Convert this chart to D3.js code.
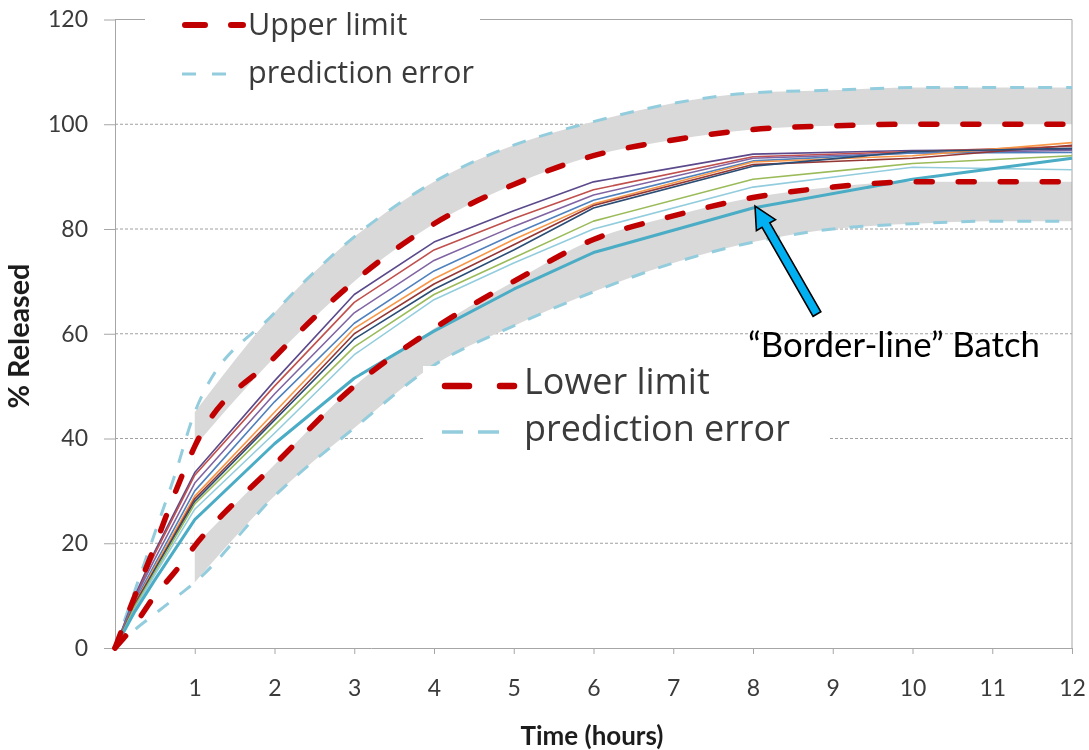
<!DOCTYPE html>
<html>
<head>
<meta charset="utf-8">
<script src="https://cdn.jsdelivr.net/npm/d3@7"></script>
<style>
  html, body { margin: 0; padding: 0; background: #fff; }
  svg { display: block; }
</style>
</head>
<body>
<svg id="chart" width="1089" height="750"></svg>
<script>
// Dissolution profile: % released vs time, with limits and prediction error bands
const limitHours = [0, 0.25, 0.5, 0.75, 1, 2, 3, 4, 5, 6, 7, 8, 9, 10, 11, 12];
const upperLimit = [0, 10, 19.5, 29.5, 38.5, 55.5, 70, 81, 88.5, 94, 97, 99, 99.7, 100, 100, 100];
const lowerLimit = [0, 4.5, 10, 14.5, 19.5, 35, 50, 61, 70, 78, 82.5, 86, 88, 89, 89, 89];
const upperError = [0, 11, 22, 33, 45, 64, 78.5, 89, 96, 100.5, 104, 106, 106.5, 107, 107, 107];
const lowerError = [0, 3.5, 6.5, 9.5, 12.5, 29, 42, 54, 61.5, 68, 73.5, 77.5, 80, 81, 81.5, 81.5];

const batchHours = [0, 0.25, 0.5, 1, 2, 3, 4, 5, 6, 8, 10, 12];
const batchPurple = [0, 10, 18.5, 33.5, 51, 67.5, 77.5, 83.5, 89, 94.3, 95, 95.2];
const batchRed = [0, 9.5, 18, 33, 50, 66, 76, 82, 87.5, 93.8, 94.8, 95.8];
const batchViolet = [0, 9.5, 17, 31.5, 48.5, 64, 74, 80.5, 86.5, 93.5, 94.5, 95];
const batchBlue = [0, 9, 16, 30, 47, 62, 72, 79, 85.5, 93, 94.5, 94.6];
const batchOrange = [0, 8.5, 15.5, 29, 45, 61, 70.5, 78, 84.8, 92.8, 94, 96.5];
const batchDarkRed = [0, 8.5, 15, 28.5, 44, 60, 69.5, 77, 84.5, 92.3, 93.5, 96];
const batchDarkBlue = [0, 8, 15, 28, 43.5, 59, 68.5, 76, 84, 92, 94.8, 95.4];
const batchGreen = [0, 8, 14.5, 27.5, 42.5, 57.5, 67.5, 74.5, 81.5, 89.5, 92.5, 94];
const batchLightBlue = [0, 7.5, 14, 26.5, 41, 56, 66.5, 73.5, 80, 88, 91.8, 91.3];
const batchBorderline = [0, 7, 13, 24.5, 39, 51.5, 60.5, 68.5, 75.5, 84, 89.5, 93.5];

const batchSeries = [batchPurple, batchRed, batchViolet, batchBlue, batchOrange,
                     batchDarkRed, batchDarkBlue, batchGreen, batchLightBlue, batchBorderline];
const batchColors = ["#5b4a8b", "#c0504d", "#8064a2", "#4f81bd", "#f79646",
                     "#953735", "#2c4d75", "#9bbb59", "#93cddd", "#4bacc6"];

const xTicks = [1, 2, 3, 4, 5, 6, 7, 8, 9, 10, 11, 12];
const yTicks = [0, 20, 40, 60, 80, 100, 120];
const gridValues = [20, 40, 60, 80, 100];

const legendTopLabels = ["Upper limit", "prediction error"];
const legendMidLabels = ["Lower limit", "prediction error"];
const annotationLabel = "\u201CBorder-line\u201D Batch";
const highlightHour = 8;

const RED = "#c00000";
const CYAN = "#93cddd";
const FONT = "Lato, 'Open Sans', sans-serif";
const LEGEND_FONT = "'Open Sans', Lato, sans-serif";

const svg = d3.select("#chart");
const plot = { left: 115, right: 1072, top: 19.5, bottom: 648 };

const x = d3.scaleLinear().domain([0, 12]).range([plot.left, plot.right]);
const y = d3.scaleLinear().domain([0, 120]).range([plot.bottom, plot.top]);

// slight softening of the chart body
const defs = svg.append("defs");
defs.append("filter").attr("id", "soft")
  .attr("x", "-5%").attr("y", "-5%").attr("width", "110%").attr("height", "110%")
  .append("feGaussianBlur").attr("stdDeviation", 0.55);

const chart = svg.append("g").attr("filter", "url(#soft)");

// scale text so it spans a given width
function fitWidth(sel, target) {
  const w = sel.node().getComputedTextLength();
  const fs = parseFloat(sel.attr("font-size"));
  const size = fs * target / w;
  sel.attr("font-size", size);
  return size;
}

// dotted horizontal gridlines
chart.append("g").selectAll("line").data(gridValues).join("line")
  .attr("x1", plot.left).attr("x2", plot.right)
  .attr("y1", d => y(d)).attr("y2", d => y(d))
  .attr("stroke", "#a0a0a0").attr("stroke-width", 1)
  .attr("stroke-dasharray", "3,2");

// band rows (from 1 h onward)
const bandRows = limitHours.map((t, i) => ({
  t, ul: upperLimit[i], ll: lowerLimit[i], ue: upperError[i], le: lowerError[i]
})).filter(d => d.t >= 1);

chart.append("path").datum(bandRows)
  .attr("fill", "#d9d9d9")
  .attr("d", d3.area().curve(d3.curveMonotoneX)
    .x(d => x(d.t)).y0(d => y(d.le)).y1(d => y(d.ue)));

chart.append("path").datum(bandRows)
  .attr("fill", "#ffffff")
  .attr("d", d3.area().curve(d3.curveMonotoneX)
    .x(d => x(d.t)).y0(d => y(d.ll)).y1(d => y(d.ul)));

// axes
const axisColor = "#a6a6a6";
const xAxis = d3.axisBottom(x).tickValues(xTicks).tickSize(6).tickSizeOuter(0)
  .tickPadding(26).tickFormat(d3.format("d"));
const yAxis = d3.axisLeft(y).tickValues(yTicks).tickSize(11).tickSizeOuter(0)
  .tickPadding(16).tickFormat(d3.format("d"));

const gx = chart.append("g").attr("transform", `translate(0,${plot.bottom})`).call(xAxis);
const gy = chart.append("g").attr("transform", `translate(${plot.left},0)`).call(yAxis);
[gx, gy].forEach(g => {
  g.selectAll("path, line").attr("stroke", axisColor);
  g.selectAll("text").attr("fill", "#3a3a3a").attr("font-family", FONT).attr("font-size", 23);
});

// top and right frame
chart.append("line").attr("x1", plot.left).attr("x2", plot.right)
  .attr("y1", plot.top).attr("y2", plot.top).attr("stroke", axisColor);
chart.append("line").attr("x1", plot.right).attr("x2", plot.right)
  .attr("y1", plot.top).attr("y2", plot.bottom).attr("stroke", axisColor);

// prediction error lines
const limitLine = vals => d3.line().curve(d3.curveMonotoneX)
  .x((d, i) => x(limitHours[i])).y(d => y(d))(vals);

[upperError, lowerError].forEach(vals => {
  chart.append("path").attr("d", limitLine(vals))
    .attr("fill", "none").attr("stroke", CYAN).attr("stroke-width", 3)
    .attr("stroke-dasharray", "14,14");
});

// batch profiles
const batchLine = d3.line().x((d, i) => x(batchHours[i])).y(d => y(d));
batchSeries.forEach((vals, k) => {
  const last = k === batchSeries.length - 1;
  chart.append("path").attr("d", batchLine(vals))
    .attr("fill", "none").attr("stroke", batchColors[k])
    .attr("stroke-width", last ? 3 : 1.6)
    .attr("stroke-linejoin", "round");
});

// upper/lower limits
[upperLimit, lowerLimit].forEach(vals => {
  chart.append("path").attr("d", limitLine(vals))
    .attr("fill", "none").attr("stroke", RED).attr("stroke-width", 5.5)
    .attr("stroke-linecap", "round").attr("stroke-dasharray", "16,26");
});

// axis titles
chart.append("text").attr("x", 592).attr("y", 745)
  .attr("text-anchor", "middle").attr("font-family", FONT).attr("font-weight", "bold")
  .attr("font-size", 20).attr("fill", "#1e1e1e").text("Time (hours)")
  .call(s => fitWidth(s, 143));

chart.append("text").attr("transform", "translate(29,336) rotate(-90)")
  .attr("text-anchor", "middle").attr("font-family", FONT).attr("font-weight", "bold")
  .attr("font-size", 19).attr("fill", "#1e1e1e").text("% Released")
  .call(s => fitWidth(s, 145));

// legend blocks
function legend(box, rows) {
  const g = chart.append("g");
  g.append("rect").attr("x", box.x).attr("y", box.y).attr("width", box.w).attr("height", box.h)
    .attr("fill", "#ffffff");
  rows.forEach(r => {
    g.append("line").attr("x1", r.x1).attr("x2", r.x2).attr("y1", r.ly).attr("y2", r.ly)
      .attr("stroke", r.color).attr("stroke-width", r.width)
      .attr("stroke-linecap", r.cap).attr("stroke-dasharray", r.dash);
  });
  const texts = rows.map(r => g.append("text").attr("x", box.tx).attr("y", r.ty)
    .attr("font-family", LEGEND_FONT).attr("font-size", 24).attr("fill", "#3a3a3a").text(r.label));
  const size = fitWidth(texts[1], box.tw);
  texts[0].attr("font-size", size);
}

legend({ x: 145, y: 0, w: 335, h: 100, tx: 248, tw: 226 }, [
  { label: legendTopLabels[0], ty: 35, ly: 25, x1: 185, x2: 243, color: RED, width: 6, cap: "round", dash: "20,26" },
  { label: legendTopLabels[1], ty: 83, ly: 74, x1: 182, x2: 228, color: CYAN, width: 3, cap: "butt", dash: "14,16" }
]);

legend({ x: 423, y: 366, w: 405, h: 89, tx: 524, tw: 266 }, [
  { label: legendMidLabels[0], ty: 394, ly: 386, x1: 445, x2: 514, color: RED, width: 6.5, cap: "round", dash: "24,31" },
  { label: legendMidLabels[1], ty: 441, ly: 432, x1: 442, x2: 500, color: CYAN, width: 3.5, cap: "butt", dash: "21,15" }
]);

// annotation arrow pointing at the border-line batch
const idx = batchHours.indexOf(highlightHour);
const tip = [x(highlightHour) + 2, y(batchBorderline[idx]) - 2];
const tail = [tip[0] + 62, tip[1] + 108];
const dx = tip[0] - tail[0], dy = tip[1] - tail[1];
const len = Math.hypot(dx, dy);
const ux = dx / len, uy = dy / len, px = -uy, py = ux;
const shaftW = 4.5, headW = 11, headL = 22;
const base = [tip[0] - ux * headL, tip[1] - uy * headL];
const arrowPts = [
  [tail[0] + px * shaftW, tail[1] + py * shaftW],
  [base[0] + px * shaftW, base[1] + py * shaftW],
  [base[0] + px * headW, base[1] + py * headW],
  tip,
  [base[0] - px * headW, base[1] - py * headW],
  [base[0] - px * shaftW, base[1] - py * shaftW],
  [tail[0] - px * shaftW, tail[1] - py * shaftW]
];
svg.append("polygon").attr("points", arrowPts.map(p => p.join(",")).join(" "))
  .attr("fill", "#00b0f0").attr("stroke", "#000").attr("stroke-width", 1.6)
  .attr("stroke-linejoin", "miter");

svg.append("text").attr("x", 748).attr("y", 357)
  .attr("font-family", FONT).attr("font-size", 30).attr("fill", "#000")
  .text(annotationLabel)
  .call(s => fitWidth(s, 292));
</script>
</body>
</html>
